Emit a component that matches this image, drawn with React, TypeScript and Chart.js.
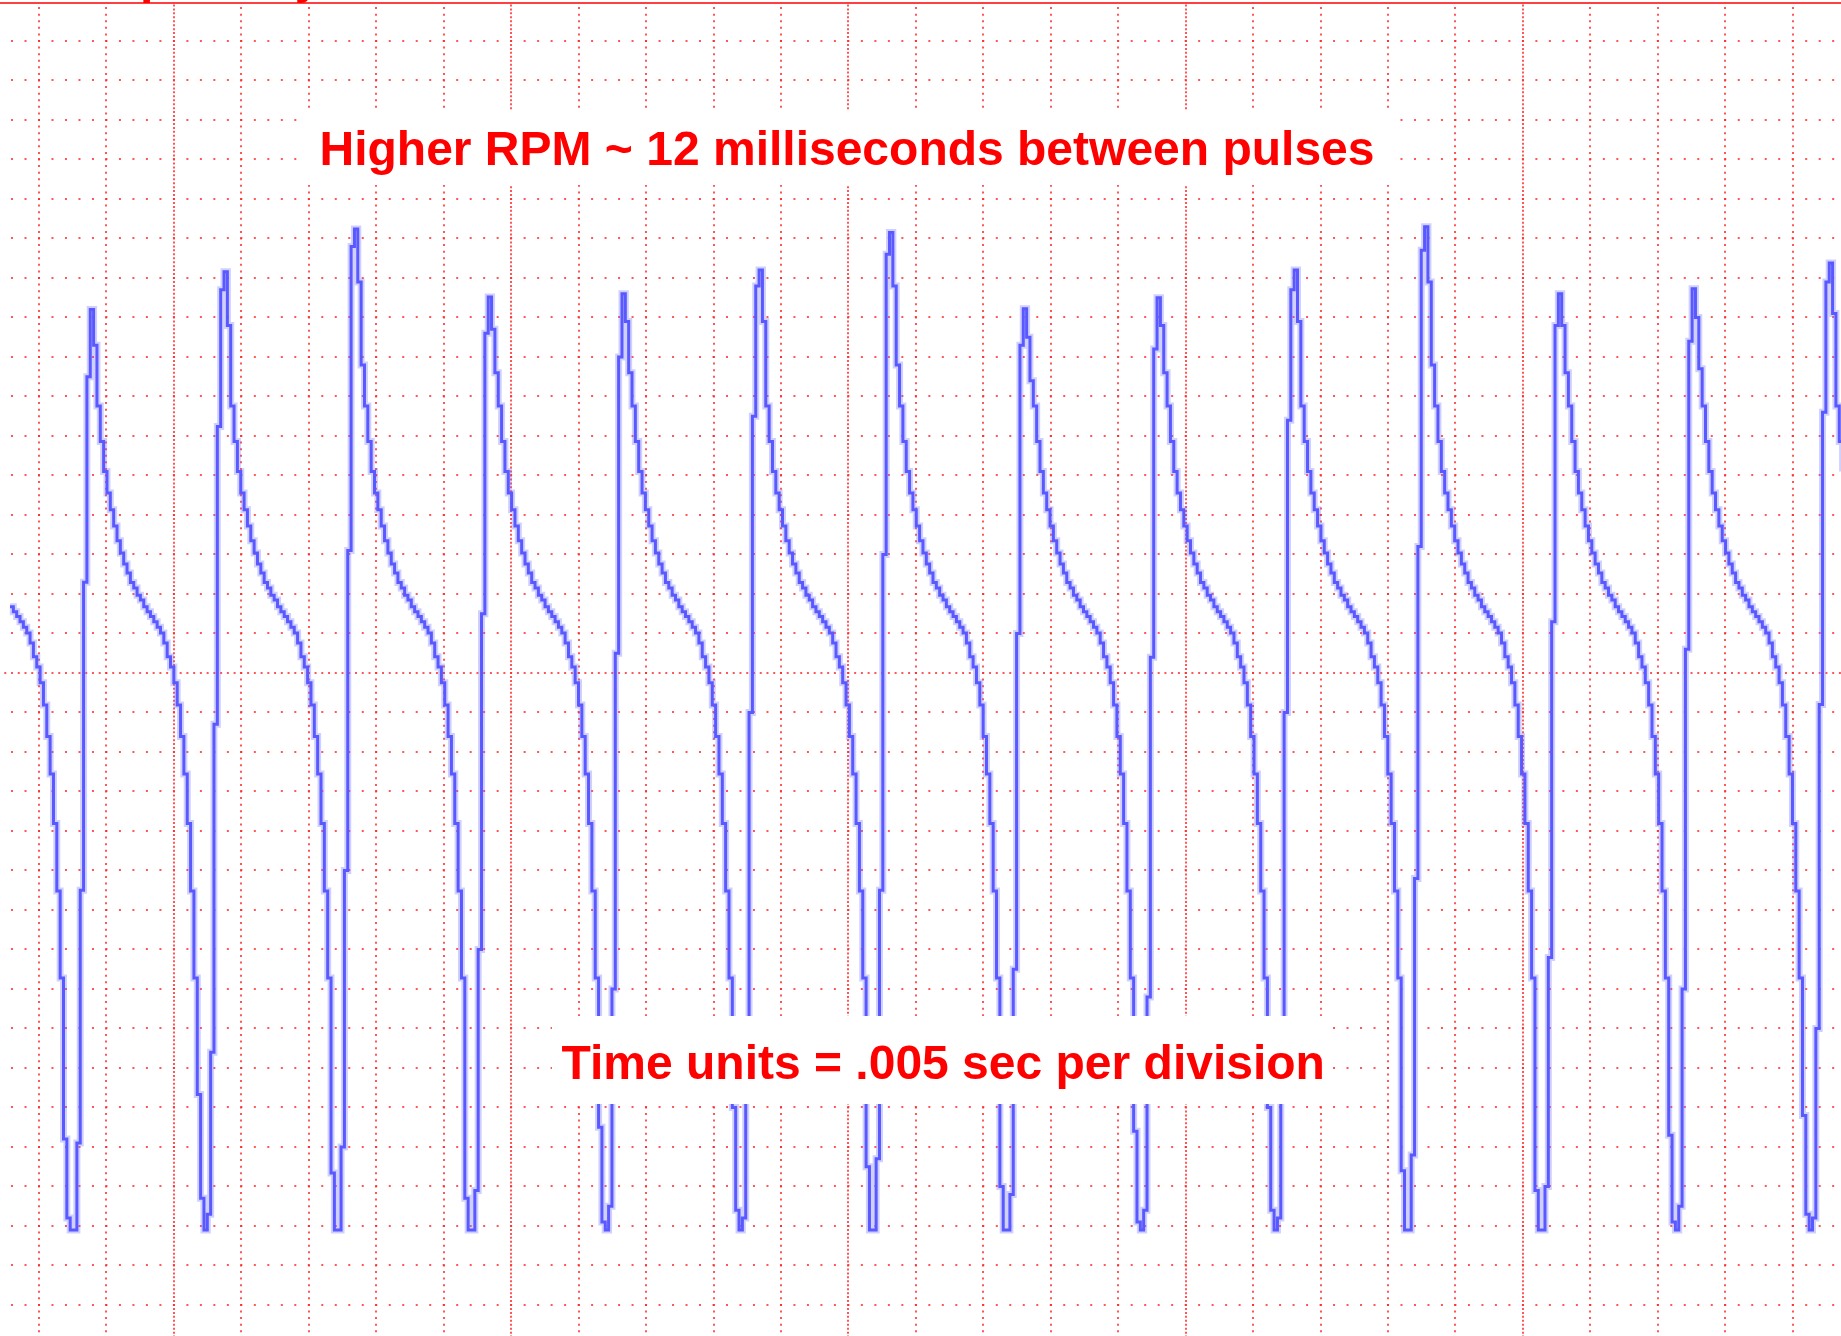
import { useEffect, useRef } from 'react';
import { Chart, registerables } from 'chart.js';

Chart.register(...registerables);

// ---------- grid / tick positions (ms on x, divisions on y) ----------
const timeGridMs = [0, 5, 10, 15, 20, 25, 30, 35, 40, 45, 50, 55, 60, 65, 70, 75, 80, 85, 90, 95, 100, 105, 110, 115, 120, 125, 130];
const majorTimeMs = [10, 35, 60, 85, 110];
const voltGridDiv = [-16, -15, -14, -13, -12, -11, -10, -9, -8, -7, -6, -5, -4, -3, -2, -1, 0, 1, 2, 3, 4, 5, 6, 7, 8, 9, 10, 11, 12, 13, 14, 15, 16];
const centerLineDiv = [0];

// ---------- sampled waveform (values in vertical divisions) ----------
const sampleIntervalMs = 0.2479;
const firstSampleMs = -2.15;

// tail of the pulse that is already in progress at the left edge
const leadIn = [1.68, 1.55, 1.43, 1.3, 1.16, 1.01, 0.76, 0.41, 0.15, -0.25, -0.81, -1.61, -2.56, -3.81, -5.52, -7.72];

// each pulse: trough and fast rise/peak samples (read per pulse)
const pulseEvents = [
  [-11.8, -13.8, -14.1, -14.1, -11.9, -5.5, 2.3, 7.5, 9.2, 8.3],
  [-10.67, -13.3, -14.1, -13.7, -9.6, -1.3, 6.24, 9.7, 10.16, 8.8],
  [-12.66, -14.1, -14.1, -12.0, -5.0, 3.1, 10.8, 11.24, 9.9, 7.8],
  [-13.3, -14.1, -14.1, -13.1, -7.0, 1.5, 8.6, 9.52, 8.7, 7.6],
  [-11.5, -13.9, -14.1, -13.5, -8.0, 0.5, 8.0, 9.6, 8.9, 7.6],
  [-11.0, -13.6, -14.1, -13.8, -9.0, -1.0, 6.5, 9.8, 10.2, 8.9],
  [-12.5, -14.1, -14.1, -12.3, -5.5, 3.0, 10.6, 11.15, 9.8, 7.8],
  [-13.0, -14.1, -14.1, -13.2, -7.5, 1.0, 8.3, 9.22, 8.5, 7.4],
  [-11.6, -13.9, -14.1, -13.6, -8.2, 0.4, 8.2, 9.5, 8.8, 7.6],
  [-11.0, -13.6, -14.1, -13.8, -9.0, -1.0, 6.4, 9.7, 10.2, 8.9],
  [-12.6, -14.1, -14.1, -12.2, -5.2, 3.2, 10.7, 11.3, 9.9, 7.8],
  [-13.1, -14.1, -14.1, -13.0, -7.2, 1.3, 8.8, 9.6, 8.8, 7.6],
  [-11.7, -13.9, -14.1, -13.5, -8.0, 0.6, 8.4, 9.73, 9.0, 7.7],
  [-11.2, -13.7, -14.1, -13.8, -9.0, -0.8, 6.6, 9.9, 10.38, 9.1],
];

// decay after each peak, then fall towards the next trough
const decayShape = [6.76, 5.86, 5.1, 4.56, 4.13, 3.72, 3.35, 3.04, 2.76, 2.53, 2.29, 2.15, 1.97, 1.85, 1.68, 1.55, 1.43, 1.3, 1.16, 1.01, 0.76, 0.41, 0.15, -0.25, -0.81, -1.61, -2.56, -3.81, -5.52, -7.72];

// ---------- text ----------
const partialTitle = 'Speed by RPM';
const noteTop = 'Higher RPM ~ 12 milliseconds between pulses';
const noteBottom = 'Time units = .005 sec per division';

const W = 1841;
const H = 1336;
const X_MIN = -2.891;
const X_MAX = 133.58;
const Y_MIN = -16.785;
const Y_MAX = 16.962;

const gridRed = 'rgba(255, 40, 40, 0.78)';
const clear = 'rgba(0,0,0,0)';
const FONT = 'bold 48px "Liberation Sans", Arial, Helvetica, sans-serif';

const notesPlugin = {
  id: 'scopeNotes',
  afterDraw(chart: any) {
    const ctx = chart.ctx as CanvasRenderingContext2D;
    ctx.save();
    ctx.fillStyle = '#ffffff';
    ctx.fillRect(298, 110, 1102, 75);
    ctx.fillRect(552, 1016, 781, 88);
    ctx.fillStyle = '#ff0000';
    ctx.font = FONT;
    ctx.textBaseline = 'alphabetic';
    ctx.textAlign = 'left';
    ctx.fillText(noteTop, 319.5, 165);
    ctx.fillText(noteBottom, 561.5, 1079.3);
    ctx.fillText(partialTitle, 108, -6.7);
    ctx.restore();
  },
};

function buildPoints() {
  const values: number[] = [...leadIn];
  pulseEvents.forEach((ev) => {
    values.push(...ev, ...decayShape);
  });
  return values.map((v, i) => ({ x: firstSampleMs + i * sampleIntervalMs, y: v }));
}

const hidden = { display: false };

export default function App() {
  const ref = useRef<HTMLCanvasElement | null>(null);

  useEffect(() => {
    if (!ref.current) return;
    const points = buildPoints();
    const chart = new Chart(ref.current, {
      type: 'line',
      data: {
        datasets: [
          {
            data: points,
            xAxisID: 'x',
            yAxisID: 'y',
            stepped: true,
            borderColor: 'rgba(110, 110, 255, 0.32)',
            borderWidth: 7,
            pointRadius: 0,
            fill: false,
          },
          {
            data: points,
            xAxisID: 'x',
            yAxisID: 'y',
            stepped: true,
            borderColor: '#5050ff',
            borderWidth: 3,
            pointRadius: 0,
            fill: false,
          },
        ],
      },
      options: {
        animation: false,
        responsive: false,
        devicePixelRatio: 1,
        events: [],
        layout: { padding: { top: 3, left: 0, right: 0, bottom: 0 } },
        plugins: { legend: hidden, tooltip: { enabled: false }, title: hidden },
        scales: {
          x: {
            type: 'linear',
            axis: 'x',
            position: 'bottom',
            min: X_MIN,
            max: X_MAX,
            afterBuildTicks: (s: any) => {
              s.ticks = timeGridMs.map((v) => ({ value: v }));
            },
            ticks: { display: false },
            grid: {
              drawTicks: false,
              lineWidth: 2,
              color: (c: any) => (c.tick && majorTimeMs.includes(c.tick.value) ? clear : gridRed),
            },
            border: { display: false, dash: [2, 4.583], dashOffset: -4.085 },
          },
          xMajor: {
            type: 'linear',
            axis: 'x',
            position: 'bottom',
            min: X_MIN,
            max: X_MAX,
            afterBuildTicks: (s: any) => {
              s.ticks = majorTimeMs.map((v) => ({ value: v }));
            },
            ticks: { display: false },
            grid: { drawTicks: false, lineWidth: 2, color: gridRed },
            border: { display: false, dash: [2, 1.95], dashOffset: -1.45 },
          },
          xTop: {
            type: 'linear',
            axis: 'x',
            position: 'top',
            min: X_MIN,
            max: X_MAX,
            ticks: { display: false },
            grid: { display: false, drawTicks: false },
            border: { display: true, color: 'rgba(255, 30, 30, 0.85)', width: 2 },
          },
          y: {
            type: 'linear',
            axis: 'y',
            position: 'left',
            min: Y_MIN,
            max: Y_MAX,
            afterBuildTicks: (s: any) => {
              s.ticks = voltGridDiv.map((v) => ({ value: v }));
            },
            ticks: { display: false },
            grid: {
              drawTicks: false,
              lineWidth: 2,
              color: (c: any) => (c.tick && centerLineDiv.includes(c.tick.value) ? clear : gridRed),
            },
            border: { display: false, dash: [2, 11.49], dashOffset: -11.02 },
          },
          yCenter: {
            type: 'linear',
            axis: 'y',
            position: 'left',
            min: Y_MIN,
            max: Y_MAX,
            afterBuildTicks: (s: any) => {
              s.ticks = centerLineDiv.map((v) => ({ value: v }));
            },
            ticks: { display: false },
            grid: { drawTicks: false, lineWidth: 2, color: gridRed },
            border: { display: false, dash: [2, 4.745], dashOffset: -4.275 },
          },
        },
      } as any,
      plugins: [notesPlugin],
    });
    return () => chart.destroy();
  }, []);

  return (
    <div style={{ position: 'fixed', left: 0, top: 0, width: W, height: H, background: '#ffffff' }}>
      <canvas ref={ref} width={W} height={H} style={{ display: 'block', width: W, height: H }} />
    </div>
  );
}
